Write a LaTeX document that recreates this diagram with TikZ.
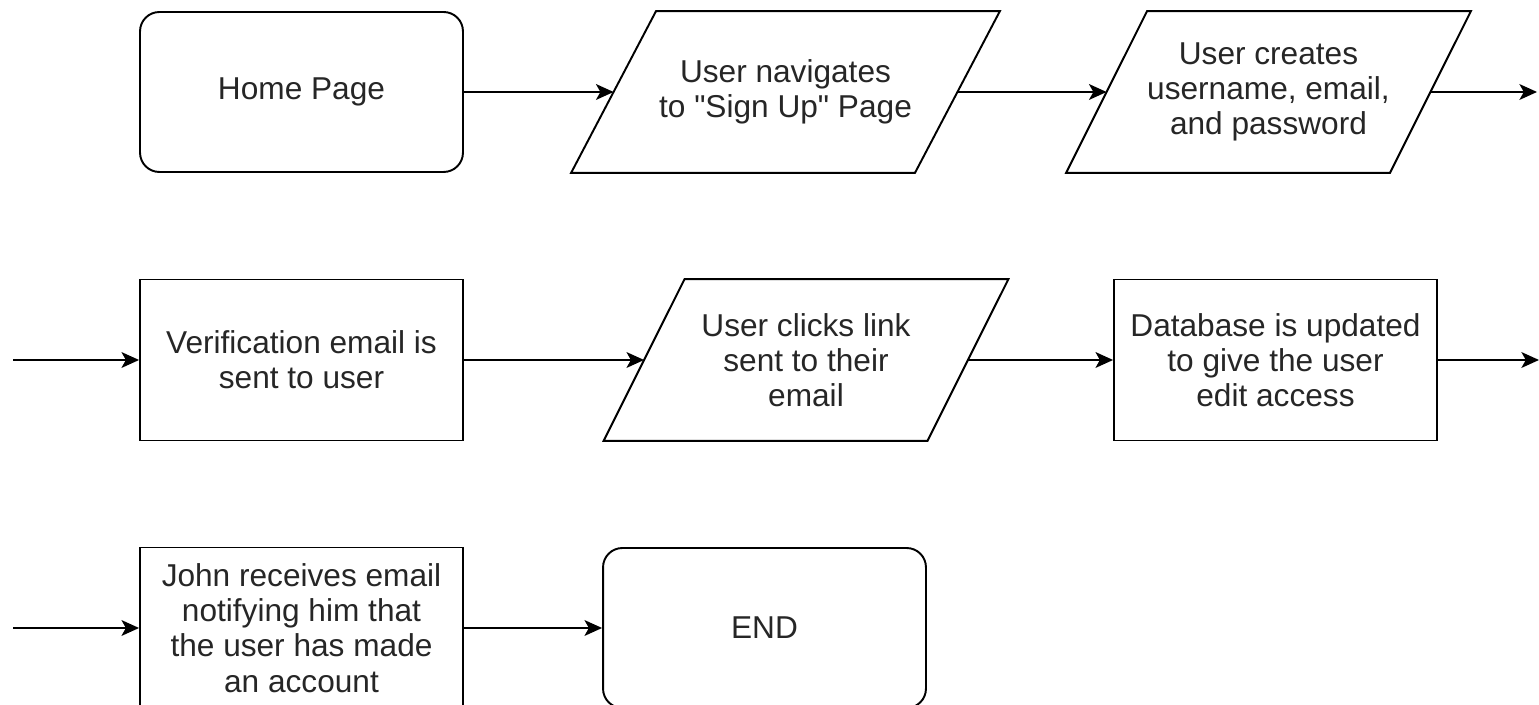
\documentclass[tikz,border=0pt]{standalone}
\usepackage{fontspec}
\setmainfont{Liberation Sans}
\usetikzlibrary{arrows.meta}
\newcommand\flowfont{\fontsize{18}{20}\selectfont}
% slanted frame round an input/output node
\newcommand\ioframe[2][0.81cm]{%
  \draw ([xshift=#1]#2.north west) -- ([xshift=#1]#2.north east)
        -- ([xshift=-#1]#2.south east) -- ([xshift=-#1]#2.south west) -- cycle;}
\tikzset{
    %Define standard arrow tip
    >={Stealth[length=10pt,width=9pt,inset=2.5pt]},
    term/.style={
      rectangle,
      rounded corners=11pt,
      draw=black,
      minimum width=6.46cm,
      minimum height=3.2cm,
      align=center,
      text=black!85,
      font=\flowfont},
    proc/.style={
      rectangle,
      draw=black,
      minimum width=6.46cm,
      minimum height=3.22cm,
      align=center,
      text=black!85,
      font=\flowfont},
    inout/.style={
      rectangle,
      minimum width=6.44cm,
      minimum height=3.2cm,
      align=center,
      text=black!85,
      font=\flowfont},
}
\begin{document}
\begin{tikzpicture}[x=0.02cm,y=-0.02cm,line width=1.1pt]
    \clip (0,0) rectangle (1539,705);
    % first row
    \node (home) [term] at (301.5,92)
          {Home Page};
    \node (nav) [inout, minimum width=6.84cm] at (785.5,92)
          {User navigates\\to \textquotedbl Sign Up\textquotedbl{} Page}
          edge [<-] (home);
    \ioframe[0.85cm]{nav}
    \node (creds) [inout] at (1268.5,92)
          {User creates\\username, email,\\and password}
          edge [<-] (nav);
    \ioframe{creds}
    \coordinate (out1) at (1537,92);
    \draw [->] (creds) -- (out1);
    % second row
    \coordinate (in2) at (13,360);
    \node (verify) [proc] at (301.5,360)
          {Verification email is\\sent to user}
          edge [<-] (in2);
    \node (click) [inout] at (806,360)
          {User clicks link\\sent to their\\email}
          edge [<-] (verify);
    \ioframe{click}
    \node (db) [proc] at (1275.5,360)
          {Database is updated\\to give the user\\edit access}
          edge [<-] (click);
    \coordinate (out2) at (1539,360);
    \draw [->] (db) -- (out2);
    % third row
    \coordinate (in3) at (13,628);
    \node (john) [proc] at (301.5,628)
          {John receives email\\notifying him that\\the user has made\\an account}
          edge [<-] (in3);
    \node (end) [term] at (764.5,628)
          {END}
          edge [<-] (john);
\end{tikzpicture}
\end{document}
